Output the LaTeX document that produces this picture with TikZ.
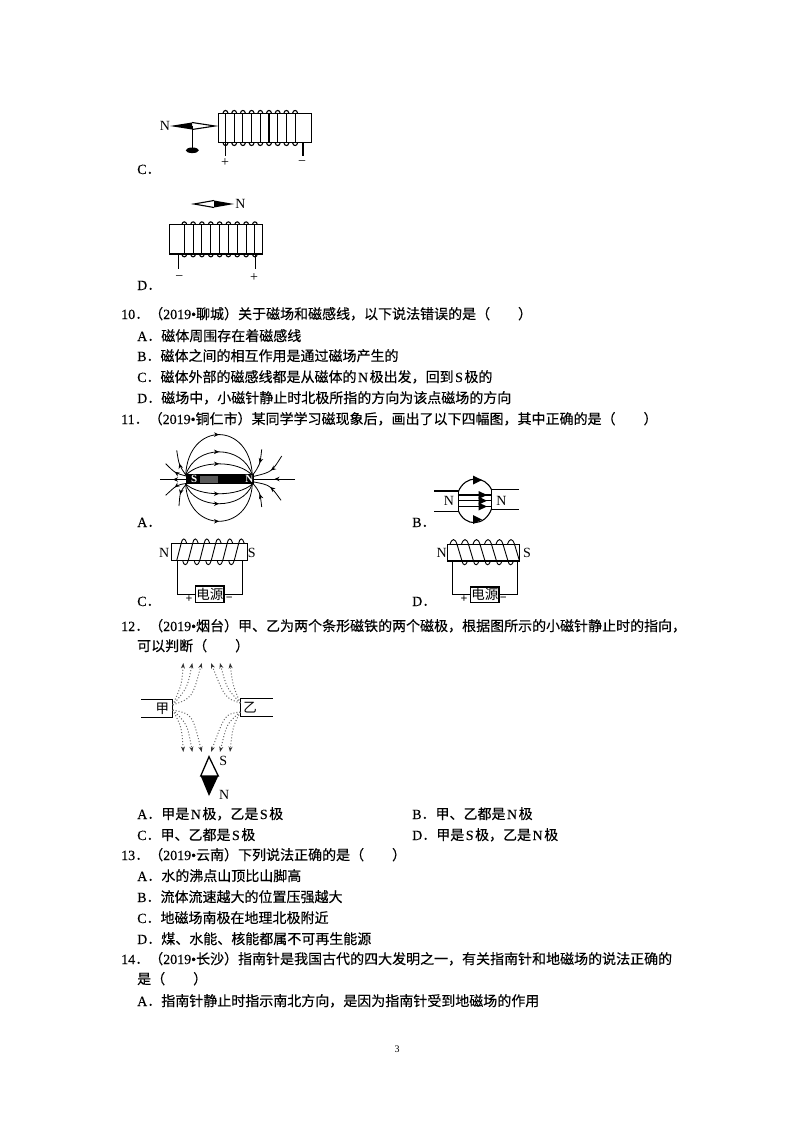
\documentclass[tikz,border=0pt]{standalone}
\usepackage{fontspec}
\setmainfont{Liberation Serif}
\newfontfamily\cjk[FakeBold=0.35]{Noto Sans CJK SC}
\newfontfamily\latq[FakeBold=0.35]{Liberation Serif}
\usetikzlibrary{arrows.meta,decorations.markings}
\newcommand{\lat}[1]{{\latq #1}}
\newcommand{\pole}[1]{\hspace{1.5pt}{\latq #1}\hspace{1.5pt}}
\tikzset{
    qline/.style={anchor=base west,inner sep=0pt,font=\cjk\fontsize{14}{16}\selectfont},
    tag/.style={inner sep=0pt,font=\rmfamily\fontsize{14}{16}\selectfont},
    signtag/.style={inner sep=0pt,font=\rmfamily\fontsize{14}{16}\selectfont},
    wire/.style={line width=1.1pt},
    coil/.style={line width=0.9pt},
    fline/.style={line width=0.8pt,postaction={decorate},decoration={markings,mark=at position 0.5 with {\arrow{Stealth[length=5pt,width=4.5pt]}}}},
    dotline/.style={black!60,line width=1pt,dotted,-{Stealth[length=5.5pt,width=4pt,black!80]}},
}
\begin{document}
\begin{tikzpicture}[x=1pt,y=-1pt]
    \useasboundingbox (0,0) rectangle (794,1123);

    % option C, coil and needle on a stand
    \draw[wire] (218.3,113.3) rectangle (311.7,142.7);
    \foreach \x in {225.5,234.2,242.9,251.6,260.3,269,277.7,286.4,295.1}{
        \draw[wire] (\x,113.3) -- (\x,142.7);
        \draw[wire] (\x-2.5,113.3) .. controls (\x-2,109.5) and (\x+2,109.5) .. (\x+2.5,113.3);
        \draw[wire] (\x-2.5,142.7) .. controls (\x-2,146.5) and (\x+2,146.5) .. (\x+2.5,142.7);
    }
    \draw[wire] (225.7,142.7) -- (225.7,155.7);
    \draw[wire] (303,142.7) -- (303,155.7);
    \fill (170,126) -- (192,122.5) -- (192,129.5) -- cycle;
    \draw[wire] (192,122.5) -- (215,126) -- (192,129.5);
    \draw[line width=1.3pt] (192.3,126) -- (192.3,150);
    \fill (192.3,150.3) ellipse (6.5 and 2.8);
    \node[tag] (c1n) at (165,126) {N};
    \node[signtag] (c1p) at (225,163) {+};
    \node[signtag] (c1m) at (302,163) {\textminus};
    \node[qline] (optc1) at (137,174) {\lat{C}．};

    % option D, coil and needle above it
    \draw[wire] (169.3,224.7) rectangle (262.7,254);
    \foreach \x in {184.3,193.1,201.9,210.8,219.6,228.4,237.2,246.1,254.9}{
        \draw[wire] (\x,224.7) -- (\x,254);
        \draw[wire] (\x-2.5,224.7) .. controls (\x-2,220.9) and (\x+2,220.9) .. (\x+2.5,224.7);
        \draw[wire] (\x-2.5,254) .. controls (\x-2,257.8) and (\x+2,257.8) .. (\x+2.5,254);
    }
    \draw[wire] (178.7,254) -- (178.7,269);
    \draw[wire] (255.3,254) -- (255.3,269);
    \fill (234,204) -- (214,200.5) -- (214,207.5) -- cycle;
    \draw[wire] (214,200.5) -- (194,204) -- (214,207.5);
    \node[tag] (d1n) at (240.5,204) {N};
    \node[signtag] (d1m) at (179.3,278) {\textminus};
    \node[signtag] (d1p) at (254,278) {+};
    \node[qline] (optd1) at (137,290) {\lat{D}．};

    % question 10
    \node[qline] (q10) at (121,319) {\lat{10}．（\lat{2019•}聊城）关于磁场和磁感线，以下说法错误的是（　　）};
    \node[qline] (q10a) at (137,341) {\lat{A}．磁体周围存在着磁感线};
    \node[qline] (q10b) at (137,361) {\lat{B}．磁体之间的相互作用是通过磁场产生的};
    \node[qline] (q10c) at (137,382) {\lat{C}．磁体外部的磁感线都是从磁体的\pole{N}极出发，回到\pole{S}极的};
    \node[qline] (q10d) at (137,403) {\lat{D}．磁场中，小磁针静止时北极所指的方向为该点磁场的方向};

    % question 11
    \node[qline] (q11) at (121,424) {\lat{11}．（\lat{2019•}铜仁市）某同学学习磁现象后，画出了以下四幅图，其中正确的是（　　）};

    % figure A, bar magnet and its field
    \fill (186,474.3) rectangle (254.3,483.9);
    \fill[black!65] (200,476) rectangle (218,482.5);
    \node[tag,white,font=\rmfamily\bfseries\fontsize{11}{12}\selectfont] (a2s) at (194.3,479.3) {S};
    \node[tag,white,font=\rmfamily\bfseries\fontsize{11}{12}\selectfont] (a2n) at (249.3,479.3) {N};
    \draw[fline] (185.7,475.3) .. controls (188,421) and (250,421) .. (252.3,475.3);
    \draw[fline] (185.7,475.3) .. controls (195,444) and (243,444) .. (252.3,475.3);
    \draw[fline] (185.7,475.3) .. controls (200,460) and (238,460) .. (252.3,475.3);
    \draw[fline] (185.7,484) .. controls (188,533.7) and (250,533.7) .. (252.3,484);
    \draw[fline] (185.7,484) .. controls (195,510.3) and (243,510.3) .. (252.3,484);
    \draw[fline] (185.7,484) .. controls (200,497) and (238,497) .. (252.3,484);
    \draw[fline] (186,479.5) -- (160,479.5);
    \draw[fline] (295,479) -- (254,479);
    \draw[fline] (186,475.3) .. controls (179,465) .. (176.7,450.3);
    \draw[fline] (186,476) .. controls (175,473) .. (165.7,463.7);
    \draw[fline] (186,483.5) .. controls (176.7,485) .. (165.7,495.3);
    \draw[fline] (186,484.5) .. controls (180,492) .. (179,506);
    \draw[fline] (261.7,449.3) .. controls (260,465) .. (252.5,475.3);
    \draw[fline] (281.7,456) .. controls (271.7,472) .. (254,476.3);
    \draw[fline] (281,500.3) .. controls (270,485) .. (254,482);
    \draw[fline] (261.7,507) .. controls (260,492) .. (252.5,483);
    \node[qline] (opta2) at (137,527) {\lat{A}．};

    % figure B, two poles facing each other
    \draw[wire] (434,491) -- (458.3,491) -- (458.3,511.7) -- (434,511.7);
    \draw[wire] (519,489.3) -- (491.7,489.3) -- (491.7,509.3) -- (519,509.3);
    \draw[wire] (458.3,491.7) .. controls (465,475) and (485,475) .. (491.7,490);
    \draw[wire] (458.3,510.7) .. controls (465,527) and (485,527) .. (491.7,508.5);
    \fill (482,480) -- (473,475.5) -- (473,484.5) -- cycle;
    \fill (482,519.5) -- (473,515) -- (473,524) -- cycle;
    \foreach \y in {495,500.7,506.5}{
        \draw[wire] (458.3,\y) -- (491.7,\y);
        \fill (487,\y) -- (478.5,\y-4) -- (478.5,\y+4) -- cycle;
    }
    \node[tag] (b2l) at (449,500.7) {N};
    \node[tag] (b2r) at (501.3,500.7) {N};
    \node[qline] (optb2) at (412,527) {\lat{B}．};

    % figure C, coil with power supply
    \draw[wire] (171.7,543.3) rectangle (247.3,560.7);
    \foreach \x in {176.7,188.2,199.7,211.2,222.7,234.2}{
        \draw[coil] (\x,560.7) -- (\x+4.5,543.3) .. controls (\x+5.5,537.5) and (\x+8.5,537.5) .. (\x+10,543.3);
    }
    \foreach \x in {182.7,194.2,205.7,217.2,228.7}{
        \draw[coil] (\x,560.7) .. controls (\x+1,566) and (\x+4,566) .. (\x+5.5,560.7);
    }
    \node[draw,wire,inner sep=0pt,minimum width=28.3pt,minimum height=16.7pt,font=\rmfamily\fontspec{Noto Sans CJK SC}\fontsize{13.5}{14}\selectfont] (srcc) at (209.8,594.3) {电源};
    \draw[wire] (177.3,560.7) |- (srcc.west);
    \draw[wire] (242.3,560.7) |- (srcc.east);
    \node[signtag,font=\rmfamily\bfseries\fontsize{12}{12}\selectfont] (c2p) at (189,599) {+};
    \node[signtag,font=\rmfamily\bfseries\fontsize{12}{12}\selectfont] (c2m) at (229.3,599) {\textminus};
    \node[tag] (c2n) at (164.3,552.7) {N};
    \node[tag] (c2s) at (251.7,552.7) {S};
    \node[qline] (optc2) at (137,606) {\lat{C}．};

    % figure D, coil wound the other way
    \draw[wire] (447.3,544.3) rectangle (519.3,561);
    \foreach \x in {458,469.5,481,492.5,504,515.5}{
        \draw[coil] (\x+4,561) -- (\x-1,544.3) .. controls (\x-3,538) and (\x-6,538) .. (\x-8,544.3);
    }
    \foreach \x in {462,473.5,485,496.5,508}{
        \draw[coil] (\x,561) .. controls (\x+1,566) and (\x+4,566) .. (\x+5.5,561);
    }
    \node[draw,wire,inner sep=0pt,minimum width=28.3pt,minimum height=15.7pt,font=\rmfamily\fontspec{Noto Sans CJK SC}\fontsize{13.5}{14}\selectfont] (srcd) at (484.8,594.8) {电源};
    \draw[wire] (452.3,561) |- (srcd.west);
    \draw[wire] (517.7,561) |- (srcd.east);
    \node[signtag,font=\rmfamily\bfseries\fontsize{12}{12}\selectfont] (d2p) at (464,599) {+};
    \node[signtag,font=\rmfamily\bfseries\fontsize{12}{12}\selectfont] (d2m) at (503.3,599) {\textminus};
    \node[tag] (d2n) at (441.7,552.7) {N};
    \node[tag] (d2s) at (527,552.7) {S};
    \node[qline] (optd2) at (412,606) {\lat{D}．};

    % question 12
    \node[qline] (q12) at (121,631) {\lat{12}．（\lat{2019•}烟台）甲、乙为两个条形磁铁的两个磁极，根据图所示的小磁针静止时的指向，};
    \node[qline] (q12x) at (137,651) {可以判断（　　）};

    % two poles with dotted field lines
    \draw[wire] (141,699.3) -- (172.7,699.3) -- (172.7,717.3) -- (141,717.3);
    \draw[wire] (272.7,698.3) -- (240.3,698.3) -- (240.3,716.7) -- (272.7,716.7);
    \node[anchor=center,inner sep=0pt,font=\rmfamily\fontspec{Noto Sans CJK SC}\fontsize{13.5}{14}\selectfont] (polea) at (162.3,709) {甲};
    \node[anchor=center,inner sep=0pt,font=\rmfamily\fontspec{Noto Sans CJK SC}\fontsize{13.5}{14}\selectfont] (poleb) at (250,707.7) {乙};
    \foreach \tx/\cx/\cy in {183.3/181.7/685,192.3/187.3/688,201.7/192.3/698}{
        \draw[dotline] (172.7,705) .. controls (\cx,\cy) .. (\tx,663);
        \draw[dotline] (172.7,710) .. controls (\cx,1412-\cy) .. (\tx,752);
    }
    \foreach \tx/\cx/\cy in {211/225/698,220/226.7/688.3,230/232.7/685}{
        \draw[dotline] (240.3,703) .. controls (\cx,\cy) .. (\tx,663);
        \draw[dotline] (240.3,712) .. controls (\cx,1412-\cy) .. (\tx,752);
    }
    \fill (200.7,776) -- (209,796) -- (218.3,776) -- cycle;
    \draw[line width=1.3pt] (200.7,776) -- (209,756.7) -- (218.3,776) -- cycle;
    \node[tag] (ns) at (223.3,761) {S};
    \node[tag] (nn) at (224.3,795) {N};

    \node[qline] (q12a) at (137,819) {\lat{A}．甲是\pole{N}极，乙是\pole{S}极};
    \node[qline] (q12b) at (412,819) {\lat{B}．甲、乙都是\pole{N}极};
    \node[qline] (q12c) at (137,840) {\lat{C}．甲、乙都是\pole{S}极};
    \node[qline] (q12d) at (412,840) {\lat{D}．甲是\pole{S}极，乙是\pole{N}极};

    % question 13
    \node[qline] (q13) at (121,860) {\lat{13}．（\lat{2019•}云南）下列说法正确的是（　　）};
    \node[qline] (q13a) at (137,881) {\lat{A}．水的沸点山顶比山脚高};
    \node[qline] (q13b) at (137,902) {\lat{B}．流体流速越大的位置压强越大};
    \node[qline] (q13c) at (137,923) {\lat{C}．地磁场南极在地理北极附近};
    \node[qline] (q13d) at (137,944) {\lat{D}．煤、水能、核能都属不可再生能源};

    % question 14
    \node[qline] (q14) at (121,964) {\lat{14}．（\lat{2019•}长沙）指南针是我国古代的四大发明之一，有关指南针和地磁场的说法正确的};
    \node[qline] (q14x) at (137,984) {是（　　）};
    \node[qline] (q14a) at (137,1006) {\lat{A}．指南针静止时指示南北方向，是因为指南针受到地磁场的作用};

    \node[tag,font=\rmfamily\fontsize{10}{12}\selectfont] (pageno) at (397,1049) {3};
\end{tikzpicture}
\end{document}
